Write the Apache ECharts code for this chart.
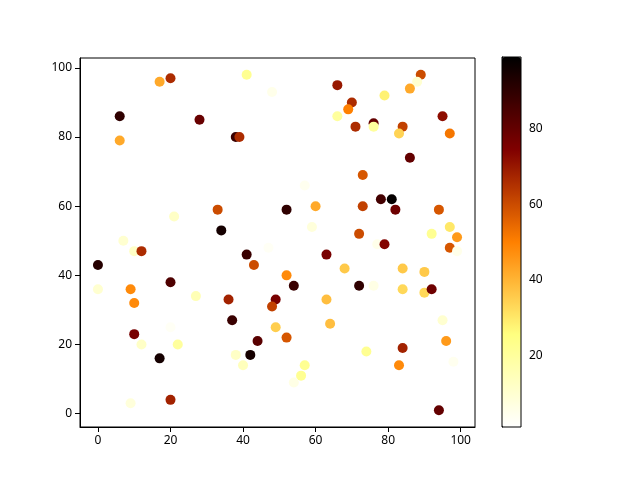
<!DOCTYPE html>
<html>
<head>
<meta charset="utf-8">
<script src="https://cdn.jsdelivr.net/npm/echarts@6/dist/echarts.min.js"></script>
<style>
  html, body { margin: 0; padding: 0; background: #fff; }
  #chart { width: 640px; height: 480px; }
</style>
</head>
<body>
<div id="chart"></div>
<script>
// point positions and colour values
var xs = [17, 20, 41, 48, 6, 28, 6, 38, 39, 33, 21, 34, 7, 47,
    89, 88, 86, 66, 79, 70, 69, 66, 76, 76, 71, 84, 83, 95, 97, 86, 73, 57, 52, 60,
    73, 78, 81, 82, 94, 59, 72, 77, 79, 92, 97, 99, 97, 99,
    10, 12, 0, 0, 9, 10, 20, 27, 36, 37, 41, 43, 49, 48, 49, 10, 12, 20, 22, 17,
    44, 38, 42, 40, 9, 20,
    63, 68, 52, 54, 72, 76, 84, 90, 84, 90, 92, 63, 64, 52, 95, 96, 84, 74, 83, 98,
    57, 56, 54, 94];
var ys = [96, 97, 98, 93, 86, 85, 79, 80, 80, 59, 57, 53, 50, 48,
    98, 96, 94, 95, 92, 90, 88, 86, 84, 83, 83, 83, 81, 86, 81, 74, 69, 66, 59, 60,
    60, 62, 62, 59, 59, 54, 52, 49, 49, 52, 54, 51, 48, 47,
    47, 47, 43, 36, 36, 32, 38, 34, 33, 27, 46, 43, 33, 31, 25, 23, 20, 25, 20, 16,
    21, 17, 17, 14, 3, 4,
    46, 42, 40, 37, 37, 37, 42, 41, 36, 35, 36, 33, 26, 22, 27, 21, 19, 18, 14, 15,
    14, 11, 9, 1];
var cs = [42, 66, 22, 5, 90, 79, 42, 88, 66, 60, 12, 95, 10, 3,
    60, 10, 42, 70, 28, 66, 50, 20, 80, 20, 66, 62, 34, 72, 52, 80, 58, 4, 90, 42,
    62, 86, 98, 78, 58, 8, 60, 5, 74, 22, 30, 45, 58, 5,
    12, 66, 92, 10, 48, 48, 84, 15, 68, 88, 88, 60, 76, 62, 35, 76, 12, 3, 20, 95,
    82, 12, 95, 14, 8, 68,
    76, 36, 48, 88, 90, 6, 36, 36, 33, 33, 78, 38, 38, 58, 10, 45, 68, 22, 48, 4,
    22, 22, 6, 80];
var xTicks = [0, 20, 40, 60, 80, 100];
var yTicks = [0, 20, 40, 60, 80, 100];
var cbarTicks = [20, 40, 60, 80];
// afmhot_r
var cmap = ['#ffffff', '#ffff80', '#ff8000', '#800000', '#000000'];

var points = [];
for (var i = 0; i < xs.length; i++) {
    points.push([xs[i], ys[i], cs[i]]);
}

var chart = echarts.init(document.getElementById('chart'));
var font = 'Noto Sans';
var options = {
    animation: false,
    backgroundColor: '#fff',
    grid: [{
        left: 80, top: 58, width: 395, height: 369,
        show: true, borderColor: '#000', borderWidth: 1, backgroundColor: 'transparent'
    }, {
        left: 502, top: 57, width: 19, height: 370,
        show: true, borderColor: '#000', borderWidth: 1, backgroundColor: 'transparent', z: 10
    }],
    xAxis: [{
        type: 'value', gridIndex: 0, min: -4.95, max: 103.95,
        splitLine: { show: false },
        axisLine: { onZero: false, lineStyle: { color: '#000' } },
        axisTick: { customValues: xTicks, length: 5, lineStyle: { color: '#000' } },
        axisLabel: { customValues: xTicks, color: '#000', fontFamily: font, fontSize: 12, margin: 8 }
    }, {
        type: 'value', gridIndex: 1, min: 0, max: 1, show: false
    }],
    yAxis: [{
        type: 'value', gridIndex: 0, min: -3.85, max: 102.85,
        splitLine: { show: false },
        axisLine: { onZero: false, lineStyle: { color: '#000' } },
        axisTick: { customValues: yTicks, length: 5, lineStyle: { color: '#000' } },
        axisLabel: { customValues: yTicks, color: '#000', fontFamily: font, fontSize: 12, margin: 8 }
    }, {
        type: 'value', gridIndex: 1, min: 1, max: 99, position: 'right',
        splitLine: { show: false },
        axisLine: { show: true, lineStyle: { color: '#000' } },
        axisTick: { customValues: cbarTicks, length: 5, lineStyle: { color: '#000' } },
        axisLabel: { customValues: cbarTicks, color: '#000', fontFamily: font, fontSize: 12, margin: 8 }
    }],
    visualMap: {
        type: 'continuous',
        min: 1, max: 99,
        dimension: 2,
        seriesIndex: 0,
        calculable: false,
        left: 502, top: 57,
        itemWidth: 19, itemHeight: 370,
        padding: 0,
        inRange: { color: cmap }
    },
    series: [{
        type: 'scatter',
        xAxisIndex: 0, yAxisIndex: 0,
        symbolSize: 10,
        itemStyle: { opacity: 1 },
        data: points
    }]
};
chart.setOption(options);
</script>
</body>
</html>
